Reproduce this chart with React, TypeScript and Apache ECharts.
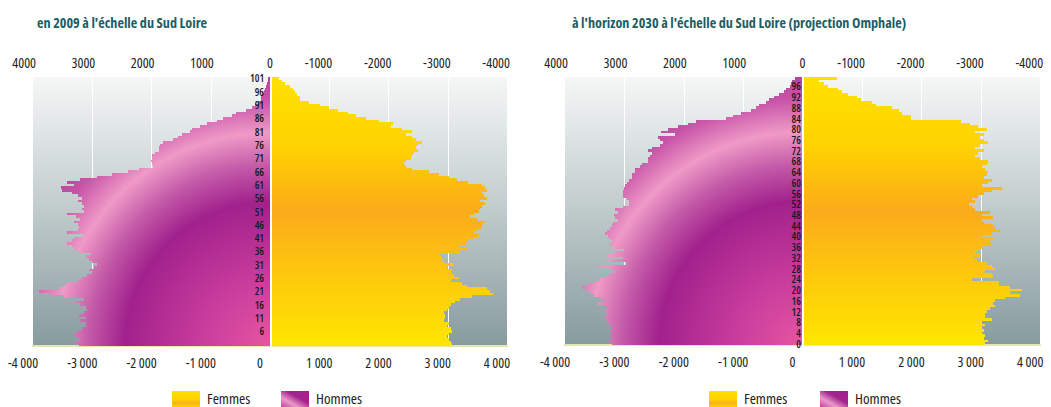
import React, { useEffect, useRef } from 'react';
import * as echarts from 'echarts';

const FONT = "'Open Sans', 'DejaVu Sans Condensed', sans-serif";

const title2009 = "en 2009 à l'échelle du Sud Loire";
const title2030 = "à l'horizon 2030 à l'échelle du Sud Loire (projection Omphale)";
const legendNames = ['Femmes', 'Hommes'];

// Ages 1..101 (2009), bottom to top
const ages2009: string[] = [];
for (let a = 1; a <= 101; a++) ages2009.push(String(a));
// Ages 0..99 (2030), bottom to top
const ages2030: string[] = [];
for (let a = 0; a <= 99; a++) ages2030.push(String(a));

const women2009 = [
  3070, 3050, 3020, 2990, 3020, 3070, 3050, 2990, 3020, 2930,
  2960, 2960, 2930, 2990, 3020, 3050, 3130, 3210, 3410, 3770,
  3720, 3660, 3330, 3240, 3050, 3190, 3100, 3050, 3070, 2990,
  3100, 2930, 2910, 2880, 2850, 3210, 3330, 3190, 3300, 3350,
  3440, 3520, 3440, 3490, 3580, 3580, 3630, 3490, 3380, 3440,
  3520, 3550, 3580, 3630, 3550, 3660, 3610, 3580, 3660, 3630,
  3580, 3350, 3160, 3020, 2850, 2680, 2400, 2290, 2260, 2290,
  2375, 2400, 2430, 2490, 2460, 2490, 2570, 2460, 2400, 2290,
  2400, 2230, 2040, 2070, 1840, 1620, 1450, 1310, 1140, 1000,
  835, 665, 510, 500, 455, 415, 390, 330, 250, 210, 150,
];

const men2009 = [
  -3230, -3310, -3200, -3280, -3310, -3250, -3170, -3110, -3110, -3200,
  -3110, -3230, -3140, -3090, -3110, -3200, -3310, -3140, -3480, -3700,
  -3900, -3560, -3480, -3420, -3250, -3170, -3090, -3000, -3060, -2970,
  -2920, -3000, -3060, -3110, -3030, -3230, -3310, -3340, -3430, -3340,
  -3310, -3140, -3430, -3250, -3230, -3250, -3310, -3200, -3280, -3420,
  -3140, -3170, -3140, -3170, -3250, -3170, -3250, -3340, -3510, -3530,
  -3310, -3420, -3200, -2920, -2670, -2390, -2220, -1980, -1990, -2010,
  -2000, -1990, -1940, -1880, -1880, -1850, -1800, -1630, -1550, -1490,
  -1350, -1320, -1180, -1070, -900, -790, -650, -570, -400, -300,
  -260, -200, -160, -150, -130, -110, -80, -70, -50, -40, -30,
];

const women2030 = [
  3070, 3130, 3050, 3070, 3020, 3050, 3020, 3070, 3020, 3190,
  3070, 3070, 3100, 3160, 3240, 3210, 3240, 3410, 3660, 3490,
  3690, 3490, 3300, 3300, 2850, 3210, 3190, 3070, 3240, 3190,
  3100, 2930, 2880, 2990, 2910, 2930, 3020, 3190, 3160, 3240,
  3020, 3190, 3330, 3240, 3210, 3050, 3020, 3210, 3020, 3160,
  2910, 2850, 2800, 2910, 2850, 2960, 3050, 3190, 3350, 3020,
  3130, 3190, 3050, 3100, 3130, 3070, 3020, 3100, 3130, 2990,
  2910, 2960, 3050, 2910, 2990, 3130, 3050, 2990, 3050, 2910,
  3100, 2960, 2820, 2660, 1820, 1820, 1680, 1620, 1510, 1230,
  1170, 980, 920, 770, 670, 590, 420, 365, 280, 575,
];

const men2030 = [
  -3210, -3270, -3210, -3240, -3210, -3240, -3210, -3240, -3300, -3300,
  -3350, -3270, -3330, -3300, -3330, -3440, -3350, -3410, -3520, -3580,
  -3630, -3720, -3610, -3490, -3410, -3300, -3240, -3160, -3240, -3440,
  -2960, -3270, -3020, -3300, -3160, -3000, -3190, -3240, -3210, -3240,
  -3270, -3330, -3300, -3240, -3210, -3190, -3100, -3160, -3180, -3100,
  -3160, -3020, -2930, -2930, -2960, -3020, -3030, -3020, -3010, -2990,
  -2960, -2930, -2880, -2880, -2820, -2820, -2740, -2710, -2600, -2600,
  -2570, -2540, -2600, -2540, -2400, -2350, -2400, -2430, -2150, -2380,
  -2260, -2100, -1930, -1790, -1290, -1170, -1030, -870, -780, -730,
  -615, -560, -475, -390, -320, -280, -220, -200, -170, -120,
];

function fmtSpace(v: number): string {
  const a = Math.abs(v);
  let s = String(a);
  if (a >= 1000) {
    const th = Math.floor(a / 1000);
    const r = a % 1000;
    s = th + ' ' + String(r).padStart(3, '0');
  }
  return (v < 0 ? '-' : '') + s;
}

export default function App() {
  const ref = useRef<HTMLDivElement>(null);

  useEffect(() => {
    if (!ref.current) return;
    const chart = echarts.init(ref.current, undefined, { renderer: 'svg' });

    const grids = [
      { left: 31, top: 77, width: 476, height: 269 },
      { left: 565, top: 77, width: 476, height: 268 },
    ];

    const bgGrad = () =>
      new echarts.graphic.LinearGradient(0, 0, 0, 1, [
        { offset: 0, color: '#f6f7f7' },
        { offset: 0.45, color: '#c5cfcf' },
        { offset: 1, color: '#879b9f' },
      ]);

    const womenGrad = (g: any) =>
      new echarts.graphic.LinearGradient(
        0, g.top, 0, g.top + g.height,
        [
          { offset: 0, color: '#ffe100' },
          { offset: 0.25, color: '#ffd300' },
          { offset: 0.5, color: '#fbab1b' },
          { offset: 0.72, color: '#fec60e' },
          { offset: 1, color: '#ffe600' },
        ],
        true
      );

    const menGrad = (cx: number, cy: number) =>
      new echarts.graphic.RadialGradient(
        cx, cy, 300,
        [
          { offset: 0, color: '#e5569f' },
          { offset: 0.2, color: '#cc3f9e' },
          { offset: 0.48, color: '#a1218c' },
          { offset: 0.6, color: '#c35aa8' },
          { offset: 0.71, color: '#ef9ac7' },
          { offset: 0.82, color: '#c854a8' },
          { offset: 1, color: '#a62a93' },
        ],
        true
      );

    const xBottom = (gi: number) => ({
      type: 'value',
      gridIndex: gi,
      position: 'bottom',
      min: -4000,
      max: 4000,
      interval: 1000,
      axisLine: { show: true, onZero: false, lineStyle: { color: '#e3e7b6', width: 2 } },
      axisTick: { show: false },
      splitLine: { show: true, showMinLine: false, showMaxLine: false, lineStyle: { color: '#ffffff', width: 1 } },
      axisLabel: {
        fontFamily: FONT, fontSize: 14, color: '#1e1e1e', margin: 9,
        padding: [0, 20, 0, 0],
        formatter: (v: number) => fmtSpace(v),
      },
    });

    const xTop = (gi: number) => ({
      type: 'value',
      gridIndex: gi,
      position: 'top',
      inverse: true,
      min: -4000,
      max: 4000,
      interval: 1000,
      axisLine: { show: false },
      axisTick: { show: false },
      splitLine: { show: false },
      axisLabel: {
        fontFamily: FONT, fontSize: 14, color: '#1e1e1e', margin: 8,
        align: 'right', padding: [0, -3, 0, 0],
        formatter: (v: number) => String(v),
      },
    });

    const yAx = (gi: number, data: string[], show: (a: number) => boolean, margin: number, offset: number) => ({
      type: 'category',
      gridIndex: gi,
      data,
      z: 10,
      position: 'left',
      offset,
      axisLine: { show: true, onZero: false, lineStyle: { color: '#ffffff', width: 2 } },
      axisTick: { show: false },
      splitLine: { show: false },
      axisLabel: {
        fontFamily: FONT, fontSize: 10.5, fontWeight: 600, color: '#1a1a1a', margin,
        interval: 0,
        formatter: (v: string) => (show(+v) ? v : ''),
      },
    });

    const barBase = { type: 'bar', barCategoryGap: '0%', barGap: '-100%', silent: true };

    const swatchFem = () =>
      new echarts.graphic.LinearGradient(0, 0, 0, 1, [
        { offset: 0, color: '#ffe000' },
        { offset: 0.55, color: '#ffd000' },
        { offset: 0.75, color: '#f8b01e' },
        { offset: 1, color: '#ffd400' },
      ]);
    const swatchHom = () =>
      new echarts.graphic.LinearGradient(0, 1, 1, 0, [
        { offset: 0, color: '#c23e9e' },
        { offset: 0.3, color: '#ea9ac9' },
        { offset: 0.6, color: '#a4248f' },
        { offset: 1, color: '#a0208c' },
      ]);

    const legendItems = (fx: number, hx: number) => [
      { type: 'rect', left: fx, top: 391, shape: { width: 28, height: 16 }, style: { fill: swatchFem() } },
      { type: 'text', left: fx + 35, top: 390, style: { text: legendNames[0], fontSize: 15, fontFamily: FONT, fill: '#222222' } },
      { type: 'rect', left: hx, top: 391, shape: { width: 28, height: 16 }, style: { fill: swatchHom() } },
      { type: 'text', left: hx + 35, top: 390, style: { text: legendNames[1], fontSize: 15, fontFamily: FONT, fill: '#222222' } },
    ];

    chart.setOption({
      animation: false,
      backgroundColor: '#ffffff',
      title: [
        { text: title2009, left: 32, top: 10, textStyle: { fontFamily: FONT, fontSize: 14.2, fontWeight: 'bold', color: '#1d5d64' } },
        { text: title2030, left: 567, top: 10, textStyle: { fontFamily: FONT, fontSize: 14.2, fontWeight: 'bold', color: '#1d5d64' } },
      ],
      grid: grids.map((g) => ({ ...g, show: true, backgroundColor: bgGrad(), borderWidth: 0, containLabel: false })),
      xAxis: [xBottom(0), xTop(0), xBottom(1), xTop(1)],
      yAxis: [
        yAx(0, ages2009, (a) => (a - 1) % 5 === 0 && a >= 6, 7, -238),
        yAx(1, ages2030, (a) => a % 4 === 0 && a <= 96, 2, -238),
      ],
      series: [
        { ...barBase, name: 'Hommes', xAxisIndex: 0, yAxisIndex: 0, data: men2009, itemStyle: { color: menGrad(269, 346) } },
        { ...barBase, name: 'Femmes', xAxisIndex: 0, yAxisIndex: 0, data: women2009, itemStyle: { color: womenGrad(grids[0]) } },
        { ...barBase, name: 'Hommes', xAxisIndex: 2, yAxisIndex: 1, data: men2030, itemStyle: { color: menGrad(803, 345) } },
        { ...barBase, name: 'Femmes', xAxisIndex: 2, yAxisIndex: 1, data: women2030, itemStyle: { color: womenGrad(grids[1]) } },
      ],
      graphic: [...legendItems(172, 281), ...legendItems(709, 820)],
    });

    return () => chart.dispose();
  }, []);

  return (
    <>
      <style>{`svg text { font-stretch: 75% !important; } svg path { shape-rendering: crispEdges; }`}</style>
      <div ref={ref} style={{ position: 'absolute', left: 0, top: 0, width: 1051, height: 407 }} />
    </>
  );
}
